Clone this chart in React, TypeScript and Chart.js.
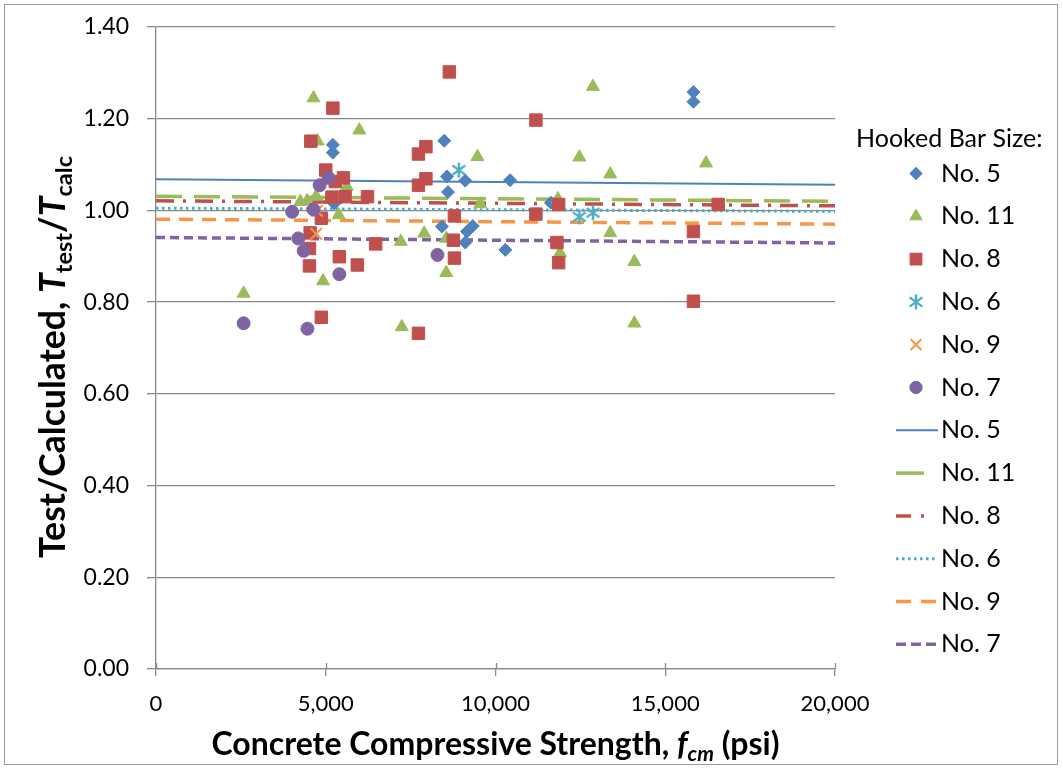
import React, { useEffect, useRef } from 'react';
import { Chart, registerables } from 'chart.js';
import { drawPoint } from 'chart.js/helpers';

Chart.register(...registerables);

// ---------- DATA ----------
const no5X = [15830, 15830, 5210, 5210, 8490, 8570, 9110, 10430, 8600, 11630, 5250, 8420, 9330, 9160, 9110, 10290];
const no5Y = [1.258, 1.237, 1.143, 1.126, 1.152, 1.074, 1.065, 1.066, 1.040, 1.017, 1.015, 0.965, 0.966, 0.954, 0.930, 0.914];

const no11X = [4640, 5990, 4760, 5620, 4250, 4450, 4720, 5380, 7210, 4920, 2580, 7240, 12870, 9470, 12470, 9550, 11840, 7900, 8550, 11900, 8550, 16200, 13380, 13380, 14090, 14090];
const no11Y = [1.245, 1.175, 1.151, 1.052, 1.019, 1.021, 1.031, 0.990, 0.932, 0.846, 0.819, 0.746, 1.270, 1.117, 1.116, 1.014, 1.025, 0.950, 0.939, 0.907, 0.864, 1.103, 1.079, 0.951, 0.888, 0.754];

const no8X = [8640, 11190, 5210, 4560, 7950, 7730, 5000, 5520, 5280, 7950, 7730, 5180, 5570, 6230, 11860, 16560, 11190, 8790, 4870, 15830, 4540, 8760, 11810, 6470, 4520, 5400, 8790, 11860, 5930, 4520, 15830, 4870, 7730];
const no8Y = [1.302, 1.197, 1.223, 1.151, 1.139, 1.123, 1.088, 1.071, 1.063, 1.069, 1.055, 1.029, 1.030, 1.030, 1.013, 1.013, 0.992, 0.988, 0.983, 0.954, 0.951, 0.935, 0.930, 0.927, 0.917, 0.899, 0.896, 0.886, 0.881, 0.879, 0.802, 0.767, 0.732];

const no6X = [8920, 12470, 12870];
const no6Y = [1.088, 0.986, 0.995];

const no9X = [4740, 4720];
const no9Y = [0.999, 0.949];

const no7X = [5080, 4820, 4010, 4640, 4190, 4350, 5400, 2580, 4460, 8290];
const no7Y = [1.071, 1.055, 0.997, 1.002, 0.939, 0.912, 0.861, 0.754, 0.742, 0.903];

// trend lines (value at x = 0 and x = 20,000)
const trendX = [0, 20000];
const no5Trend = [1.068, 1.056];
const no11Trend = [1.031, 1.020];
const no8Trend = [1.021, 1.010];
const no6Trend = [1.005, 0.998];
const no9Trend = [0.981, 0.970];
const no7Trend = [0.941, 0.929];

const seriesNames = ['No. 5', 'No. 11', 'No. 8', 'No. 6', 'No. 9', 'No. 7'];
const xTickLabels = ['0', '5,000', '10,000', '15,000', '20,000'];
const yTickLabels = ['0.00', '0.20', '0.40', '0.60', '0.80', '1.00', '1.20', '1.40'];

// ---------- STYLE ----------
const BLUE = '#4F81BD';
const GREEN = '#9BBB59';
const RED = '#C0504D';
const CYAN = '#4BACC6';
const ORANGE = '#F79646';
const PURPLE = '#8064A2';
const GRID = '#898989';
const FONT = 'Lato, "Liberation Sans", Arial, sans-serif';

function makeAsterisk(color: string, size: number): HTMLCanvasElement {
  const c = document.createElement('canvas');
  c.width = size;
  c.height = size;
  const g = c.getContext('2d')!;
  g.strokeStyle = color;
  g.lineWidth = 2.4;
  const m = size / 2;
  const r = size / 2 - 1.5;
  g.beginPath();
  g.moveTo(m, m - r);
  g.lineTo(m, m + r);
  const dx = r * 0.85;
  const dy = r * 0.62;
  g.moveTo(m - dx, m - dy);
  g.lineTo(m + dx, m + dy);
  g.moveTo(m + dx, m - dy);
  g.lineTo(m - dx, m + dy);
  g.stroke();
  return c;
}

const zip = (xs: number[], ys: number[]) => xs.map((x, i) => ({ x, y: ys[i] }));

type Seg = { t: string; italic?: boolean; sub?: boolean };

function richWidth(ctx: CanvasRenderingContext2D, segs: Seg[], size: number) {
  let total = 0;
  segs.forEach((s) => {
    ctx.font = `${s.italic ? 'italic ' : ''}bold ${s.sub ? size * 0.66 : size}px ${FONT}`;
    total += ctx.measureText(s.t).width;
  });
  return total;
}

function drawRich(ctx: CanvasRenderingContext2D, segs: Seg[], size: number, cx: number, baseline: number) {
  const total = richWidth(ctx, segs, size);
  let x = cx - total / 2;
  ctx.textAlign = 'left';
  ctx.textBaseline = 'alphabetic';
  ctx.fillStyle = '#000';
  segs.forEach((s) => {
    ctx.font = `${s.italic ? 'italic ' : ''}bold ${s.sub ? size * 0.66 : size}px ${FONT}`;
    ctx.fillText(s.t, x, baseline + (s.sub ? size * 0.2 : 0));
    x += ctx.measureText(s.t).width;
  });
}

function fitSize(ctx: CanvasRenderingContext2D, segs: Seg[], target: number) {
  const w = richWidth(ctx, segs, 30);
  return (30 * target) / w;
}

export default function App() {
  const ref = useRef<HTMLCanvasElement | null>(null);

  useEffect(() => {
    document.body.style.margin = '0';
    const canvas = ref.current!;
    const asterisk = makeAsterisk(CYAN, 18);

    const pointSets = [
      { label: seriesNames[0], data: zip(no5X, no5Y), color: BLUE, style: 'rectRot', r: 6.5, bw: 1, order: 6 },
      { label: seriesNames[1], data: zip(no11X, no11Y), color: GREEN, style: 'triangle', r: 7.5, bw: 1, order: 5 },
      { label: seriesNames[2], data: zip(no8X, no8Y), color: RED, style: 'rect', r: 8.8, bw: 1, order: 4 },
      { label: seriesNames[3], data: zip(no6X, no6Y), color: CYAN, style: asterisk as any, r: 9, bw: 2, order: 3 },
      { label: seriesNames[4], data: zip(no9X, no9Y), color: ORANGE, style: 'crossRot', r: 8, bw: 2, order: 2 },
      { label: seriesNames[5], data: zip(no7X, no7Y), color: PURPLE, style: 'circle', r: 6.5, bw: 1, order: 1 },
    ];

    const lineSets = [
      { label: seriesNames[0], ys: no5Trend, color: BLUE, dash: [] as number[], legendDash: [] as number[], w: 2 },
      { label: seriesNames[1], ys: no11Trend, color: GREEN, dash: [26, 12], legendDash: [28, 30], w: 3.5 },
      { label: seriesNames[2], ys: no8Trend, color: RED, dash: [18, 9, 3, 9], legendDash: [15, 10, 3, 30], w: 3.5 },
      { label: seriesNames[3], ys: no6Trend, color: CYAN, dash: [2.5, 3.5], legendDash: [2.5, 3.5], w: 3 },
      { label: seriesNames[4], ys: no9Trend, color: ORANGE, dash: [14, 9], legendDash: [15, 10], w: 3.5 },
      { label: seriesNames[5], ys: no7Trend, color: PURPLE, dash: [9, 5], legendDash: [10, 5], w: 3.5 },
    ];

    const datasets: any[] = [
      ...pointSets.map((p) => ({
        label: p.label,
        data: p.data,
        showLine: false,
        pointStyle: p.style,
        pointRadius: p.r,
        pointHoverRadius: p.r,
        pointBorderWidth: p.bw,
        backgroundColor: p.color,
        borderColor: p.color,
        order: p.order,
      })),
      ...lineSets.map((l, i) => ({
        label: l.label,
        data: zip(trendX, l.ys),
        showLine: true,
        pointRadius: 0,
        pointHoverRadius: 0,
        borderColor: l.color,
        backgroundColor: l.color,
        borderWidth: l.w,
        borderDash: l.dash,
        borderCapStyle: 'butt',
        fill: false,
        order: 20 - i,
      })),
    ];

    const decor = {
      id: 'decor',
      afterDraw(chart: any) {
        const ctx: CanvasRenderingContext2D = chart.ctx;
        const area = chart.chartArea;
        const xs = chart.scales.x;
        ctx.save();

        // outer border
        ctx.strokeStyle = '#9a9a9a';
        ctx.lineWidth = 1;
        ctx.strokeRect(4.5, 4.5, 1053, 760);

        // x tick marks crossing the axis (upper part)
        ctx.strokeStyle = GRID;
        ctx.lineWidth = 1.3;
        xTickLabels.forEach((_, i) => {
          const px = Math.round(xs.getPixelForValue(i * 5000)) + 0.5;
          ctx.beginPath();
          ctx.moveTo(px, area.bottom);
          ctx.lineTo(px, area.bottom - 6);
          ctx.stroke();
        });

        // x axis title
        const xSegs: Seg[] = [
          { t: 'Concrete Compressive Strength, ' },
          { t: 'f', italic: true },
          { t: 'cm', italic: true, sub: true },
          { t: ' (psi)' },
        ];
        const xSize = fitSize(ctx, xSegs, 568);
        drawRich(ctx, xSegs, xSize, (area.left + area.right) / 2, 755);

        // y axis title
        const ySegs: Seg[] = [
          { t: 'Test/Calculated, ' },
          { t: 'T', italic: true },
          { t: 'test', sub: true },
          { t: '/' },
          { t: 'T', italic: true },
          { t: 'calc', sub: true },
        ];
        const ySize = fitSize(ctx, ySegs, 402);
        ctx.save();
        ctx.translate(65, 357);
        ctx.rotate(-Math.PI / 2);
        drawRich(ctx, ySegs, ySize, 0, 0);
        ctx.restore();

        // legend
        const LF = `25px ${FONT}`;
        ctx.fillStyle = '#000';
        ctx.textAlign = 'left';
        ctx.textBaseline = 'middle';
        ctx.font = LF;
        ctx.fillText('Hooked Bar Size:', 856, 139);
        const startY = 173.5;
        const step = 42.8;
        const markX = 916;
        const textX = 941;
        pointSets.forEach((p, i) => {
          const y = startY + i * step;
          ctx.save();
          ctx.fillStyle = p.color;
          ctx.strokeStyle = p.color;
          ctx.lineWidth = p.bw;
          drawPoint(ctx, { pointStyle: p.style, radius: p.r * 0.95, rotation: 0, borderWidth: p.bw } as any, markX, y);
          ctx.restore();
          ctx.fillStyle = '#000';
          ctx.font = LF;
          ctx.fillText(p.label, textX, y);
        });
        lineSets.forEach((l, i) => {
          const y = startY + (i + 6) * step;
          ctx.save();
          ctx.strokeStyle = l.color;
          ctx.lineWidth = l.w;
          ctx.setLineDash(l.legendDash);
          ctx.beginPath();
          ctx.moveTo(896, y);
          ctx.lineTo(938, y);
          ctx.stroke();
          ctx.restore();
          ctx.fillStyle = '#000';
          ctx.font = LF;
          ctx.fillText(l.label, textX, y);
        });

        ctx.restore();
      },
    };

    const chart = new Chart(canvas, {
      type: 'scatter',
      data: { datasets },
      options: {
        responsive: false,
        animation: false,
        events: [],
        layout: { padding: { left: 10, top: 27, right: 228, bottom: 10 } },
        plugins: { legend: { display: false }, tooltip: { enabled: false }, title: { display: false } },
        scales: {
          x: {
            type: 'linear',
            min: 0,
            max: 20000,
            ticks: {
              stepSize: 5000,
              callback: (_v: any, i: number) => xTickLabels[i],
              font: { family: FONT, size: 22 },
              color: '#000',
              padding: 15,
              maxRotation: 0,
            },
            grid: { drawOnChartArea: false, drawTicks: true, tickLength: 7, color: GRID, lineWidth: 1.3 },
            border: { display: true, color: GRID, width: 1.3 },
            afterFit: (s: any) => {
              s.height = 91;
              s.paddingLeft = 0;
              s.paddingRight = 0;
            },
          },
          y: {
            type: 'linear',
            min: 0,
            max: 1.4,
            ticks: {
              stepSize: 0.2,
              callback: (_v: any, i: number) => yTickLabels[i],
              font: { family: FONT, size: 23 },
              color: '#000',
              padding: 18,
            },
            grid: { color: GRID, lineWidth: 1.3, tickLength: 9 },
            border: { display: true, color: GRID, width: 1.3 },
            afterFit: (s: any) => {
              s.width = 146;
              s.paddingTop = 0;
              s.paddingBottom = 0;
            },
          },
        },
      } as any,
      plugins: [decor],
    });

    return () => chart.destroy();
  }, []);

  return (
    <div style={{ position: 'absolute', left: 0, top: 0, width: 1063, height: 770, background: '#fff' }}>
      <canvas ref={ref} width={1063} height={770} style={{ width: 1063, height: 770, display: 'block' }} />
    </div>
  );
}
